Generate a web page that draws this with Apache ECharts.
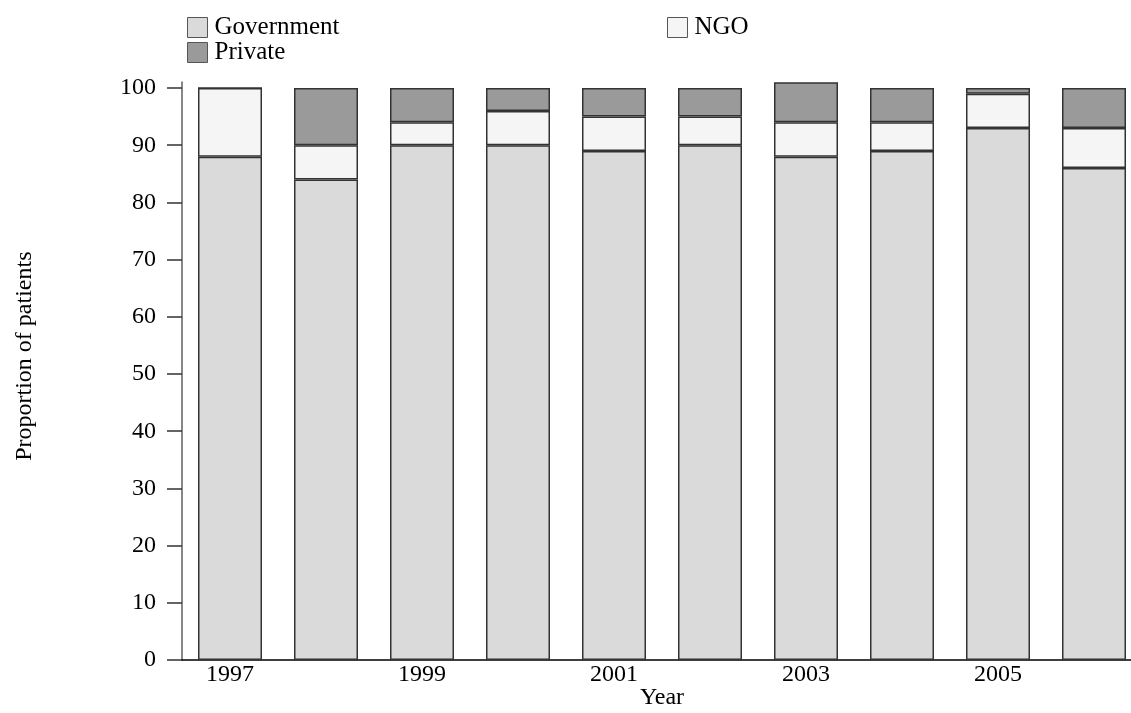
<!DOCTYPE html>
<html>
<head>
<meta charset="utf-8">
<script src="https://cdn.jsdelivr.net/npm/echarts@6/dist/echarts.min.js"></script>
<style>
html,body{margin:0;padding:0;background:#fff;}
#chart{width:1131px;height:713px;}
</style>
</head>
<body>
<div id="chart"></div>
<script>
var years = ['1997','1998','1999','2000','2001','2002','2003','2004','2005','2006'];
var government = [88, 84, 90, 90, 89, 90, 88, 89, 93, 86];
var ngo        = [12,  6,  4,  6,  6,  5,  6,  5,  6,  7];
var privateSec = [ 0, 10,  6,  4,  5,  5,  7,  6,  1,  7];
var yTicks = [0, 10, 20, 30, 40, 50, 60, 70, 80, 90, 100];

var FONT = 'Liberation Serif';
var chart = echarts.init(document.getElementById('chart'));

function barSeries(name, data, color) {
  return {
    name: name,
    type: 'bar',
    stack: 'total',
    data: data,
    barWidth: 64,
    clip: false,
    itemStyle: { color: color, borderColor: '#333', borderWidth: 1.5 },
    emphasis: { disabled: true }
  };
}

var legendBase = {
  orient: 'horizontal',
  icon: 'rect',
  itemWidth: 20,
  itemHeight: 20,
  itemGap: 7,
  textStyle: { fontFamily: FONT, fontSize: 25, color: '#000', padding: [0, 0, 0, 2] },
  itemStyle: { borderColor: '#555', borderWidth: 1 },
  selectedMode: false
};

chart.setOption({
  backgroundColor: '#fff',
  animation: false,
  textStyle: { fontFamily: FONT },
  legend: [
    Object.assign({}, legendBase, { left: 182, top: 10, data: ['Government'] }),
    Object.assign({}, legendBase, { left: 662, top: 10, data: ['NGO'] }),
    Object.assign({}, legendBase, { left: 182, top: 35, data: ['Private'] })
  ],
  grid: { left: 182, top: 82.3, width: 960, height: 577.7, containLabel: false, outerBoundsMode: 'none' },
  xAxis: {
    type: 'category',
    data: years,
    name: 'Year',
    nameLocation: 'middle',
    nameGap: 26,
    nameMoveOverlap: false,
    nameTextStyle: { fontFamily: FONT, fontSize: 24, color: '#000' },
    axisLine: { show: true, lineStyle: { color: '#000', width: 1.5 } },
    axisTick: { show: false },
    axisLabel: { interval: 1, margin: 3, fontFamily: FONT, fontSize: 24, color: '#000' },
    splitLine: { show: false }
  },
  yAxis: {
    type: 'value',
    min: 0,
    max: 101,
    name: 'Proportion of patients',
    nameLocation: 'middle',
    nameGap: 145,
    nameRotate: 90,
    nameMoveOverlap: false,
    nameTextStyle: { fontFamily: FONT, fontSize: 24, color: '#000', padding: [0, 0, 0, 30] },
    axisLine: { show: true, lineStyle: { color: '#888', width: 2 } },
    axisTick: { show: true, length: 15, inside: false, customValues: yTicks, lineStyle: { color: '#333', width: 1.5 } },
    axisLabel: { customValues: yTicks, margin: 26, fontFamily: FONT, fontSize: 24, color: '#000' },
    splitLine: { show: false }
  },
  series: [
    barSeries('Government', government, '#dadada'),
    barSeries('NGO', ngo, '#f5f5f5'),
    barSeries('Private', privateSec, '#9a9a9a')
  ]
});
</script>
</body>
</html>
